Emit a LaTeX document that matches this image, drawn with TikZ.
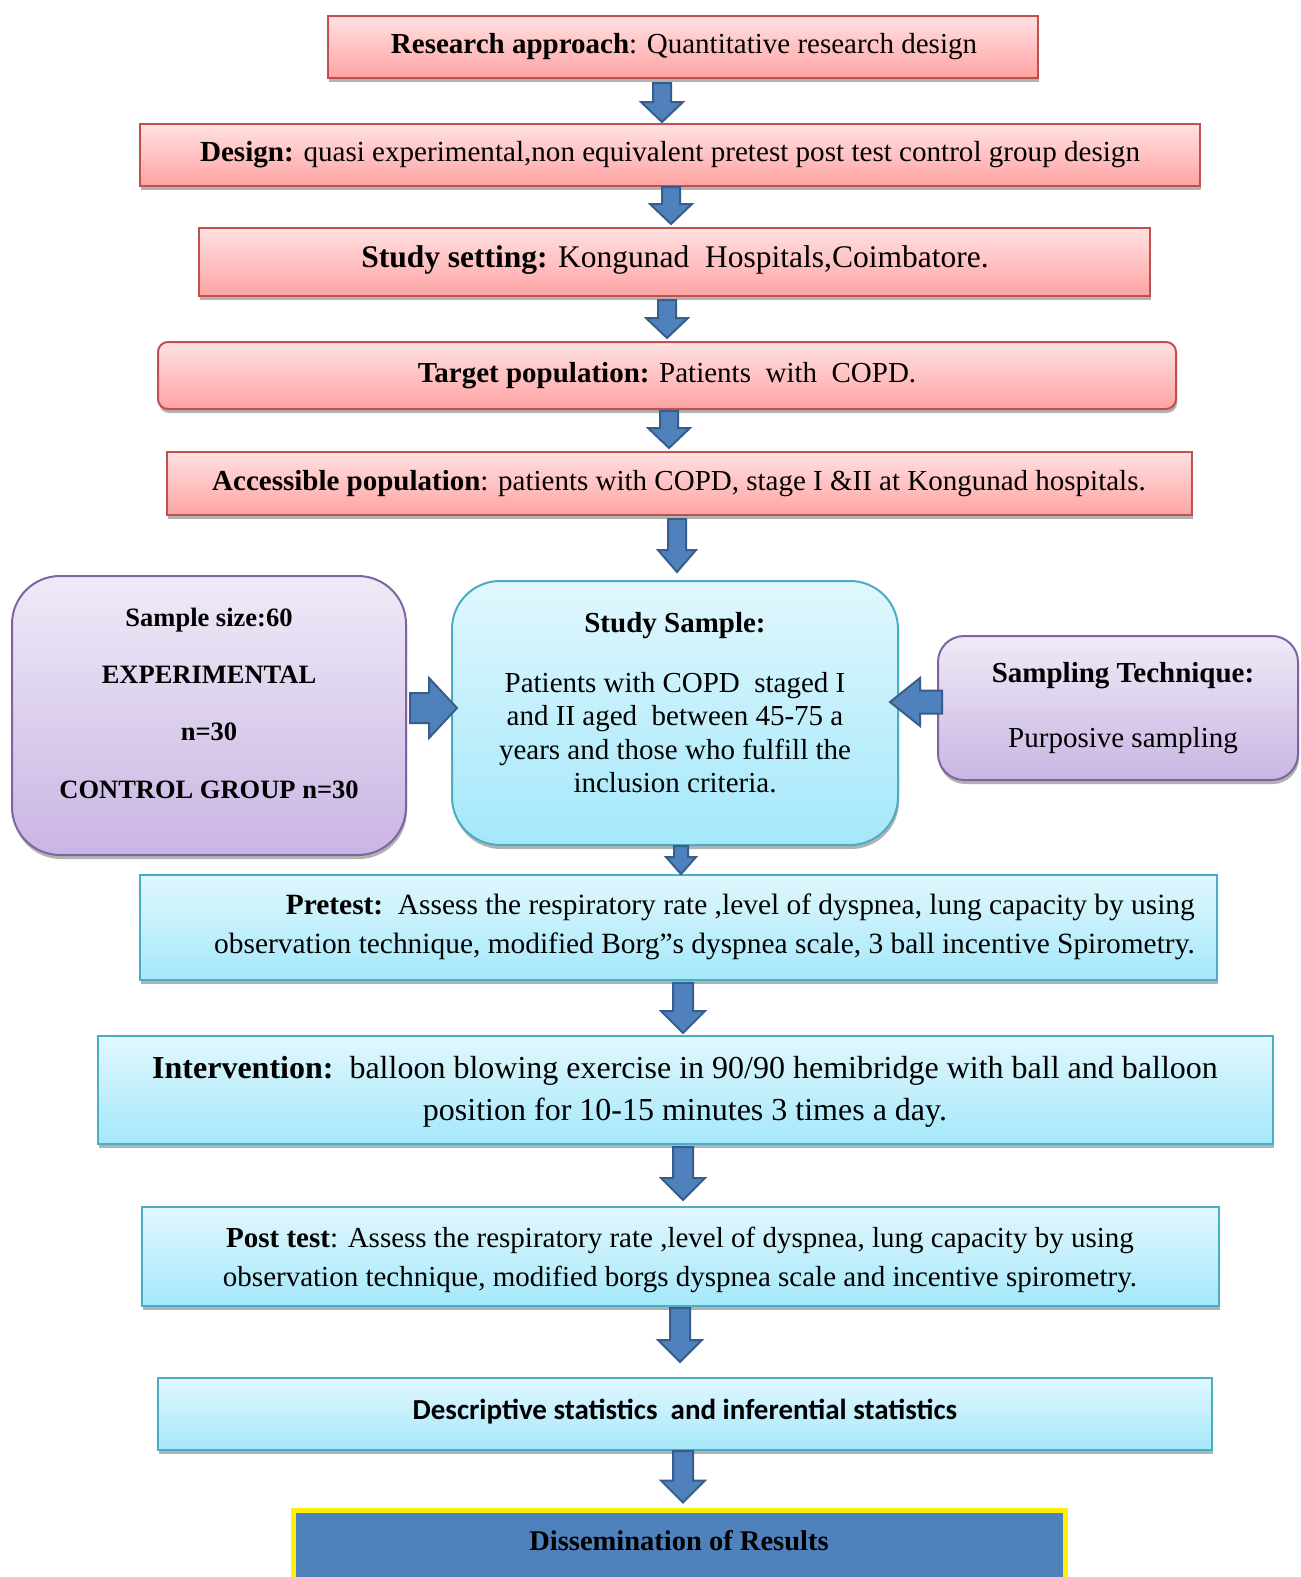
\documentclass[tikz,border=0pt]{standalone}
\usepackage{fontspec}
\setmainfont{Liberation Serif}
\newfontfamily\calibri{Carlito}
\usetikzlibrary{calc,shadows}

\definecolor{redtop}{RGB}{255,225,225}
\definecolor{redbot}{RGB}{255,163,163}
\definecolor{redline}{RGB}{192,80,77}
\definecolor{cytop}{RGB}{225,247,253}
\definecolor{cybot}{RGB}{164,232,250}
\definecolor{cyline}{RGB}{75,172,198}
\definecolor{putop}{RGB}{239,234,247}
\definecolor{pubot}{RGB}{201,181,227}
\definecolor{puline}{RGB}{128,100,162}
\definecolor{arfill}{RGB}{79,129,189}
\definecolor{arline}{RGB}{56,93,138}

\newcommand{\fs}[2]{\fontsize{#1pt}{#2pt}\selectfont}

% vertical block arrow: from, to, x, top gap, bottom gap, shaft half, head half, head length
\newcommand{\varrow}[8]{%
  \path[barrow] let \p1=(#1.south), \p2=(#2.north) in
   ({#3pt-#6pt},{\y1-#4pt}) -- ({#3pt+#6pt},{\y1-#4pt}) -- ({#3pt+#6pt},{\y2+#5pt+#8pt})
   -- ({#3pt+#7pt},{\y2+#5pt+#8pt}) -- ({#3pt},{\y2+#5pt}) -- ({#3pt-#7pt},{\y2+#5pt+#8pt})
   -- ({#3pt-#6pt},{\y2+#5pt+#8pt}) -- cycle;}
% horizontal block arrow: start anchor, tip anchor, y, start offset, tip offset, shaft half, head half, signed head length
\newcommand{\harrow}[8]{%
  \path[barrow] let \p1=(#1), \p2=(#2) in
   ({\x1+(#4pt)},{-#3pt+#6pt}) -- ({\x2+(#5pt)-(#8pt)},{-#3pt+#6pt}) -- ({\x2+(#5pt)-(#8pt)},{-#3pt+#7pt})
   -- ({\x2+(#5pt)},{-#3pt}) -- ({\x2+(#5pt)-(#8pt)},{-#3pt-#7pt}) -- ({\x2+(#5pt)-(#8pt)},{-#3pt-#6pt})
   -- ({\x1+(#4pt)},{-#3pt-#6pt}) -- cycle;}

\begin{document}
\begin{tikzpicture}[x=1pt,y=-1pt,
  shad/.style={drop shadow={shadow xshift=1pt,shadow yshift=-4pt,opacity=0.3,fill=black}},
  redbox/.style={shad,draw=redline,line width=2pt,top color=redtop,bottom color=redbot,inner sep=0pt},
  cybox/.style={shad,draw=cyline,line width=2pt,top color=cytop,bottom color=cybot,inner sep=0pt},
  pubox/.style={shad,draw=puline,line width=2pt,top color=putop,bottom color=pubot,inner sep=0pt},
  txt/.style={inner sep=0pt,align=center,font=\fs{29}{39}},
  barrow/.style={fill=arfill,draw=arline,line width=2pt,line join=miter}
]
\useasboundingbox (0,0) rectangle (1301,1577);
\clip (0,0) rectangle (1301,1577);
\fill[white] (0,0) rectangle (1301,1577);

% boxes
\node[redbox,minimum width=710pt,minimum height=62pt] (b1) at (683,47) {};
\node[redbox,minimum width=1060pt,minimum height=62pt] (b2) at (670,155) {};
\node[redbox,minimum width=951pt,minimum height=68pt] (b3) at (674.5,262) {};
\node[redbox,rounded corners=10pt,minimum width=1018pt,minimum height=67pt] (b4) at (667,375.5) {};
\node[redbox,minimum width=1025pt,minimum height=63pt] (b5) at (679.5,483.5) {};
\node[pubox,rounded corners=48pt,minimum width=394pt,minimum height=279pt] (pl) at (209,715.5) {};
\node[cybox,rounded corners=48pt,minimum width=446pt,minimum height=264pt] (ss) at (675,713) {};
\node[pubox,rounded corners=26pt,minimum width=360pt,minimum height=144pt] (pr) at (1118,708) {};
\node[cybox,minimum width=1077pt,minimum height=105pt] (pre) at (678.5,927.5) {};
\node[cybox,minimum width=1175pt,minimum height=108pt] (int) at (685.5,1090) {};
\node[cybox,minimum width=1077pt,minimum height=99pt] (post) at (680.5,1256.5) {};
\node[cybox,minimum width=1054pt,minimum height=72pt] (desc) at (685,1414) {};
\node[draw=yellow,line width=5pt,fill=arfill,minimum width=772pt,minimum height=110pt,inner sep=0pt] (dis) at (679,1565) {};

% texts
\node[txt] (t1) at (684,47) {\textbf{Research approach}: Quantitative research design};
\node[txt,font=\fs{29.1}{39}] (t2) at (670,155) {\textbf{Design:} quasi experimental,non equivalent pretest post test control group design};
\node[txt,font=\fs{31.5}{38}] (t3) at (675,260) {\textbf{Study setting:} Kongunad\ \ Hospitals,Coimbatore.};
\node[txt] (t4) at (667,376) {\textbf{Target population:} Patients\ \ with\ \ COPD.};
\node[txt] (t5) at (679,484) {\textbf{Accessible population}: patients with COPD, stage I \&II at Kongunad hospitals.};
\node[txt,font=\fs{26.5}{57.3}\bfseries] (tpl) at (209,703) {Sample size:60\\EXPERIMENTAL\\n=30\\CONTROL GROUP n=30};
\node[txt,font=\fs{29}{33.5}] (tss) at (675,703) {\textbf{Study Sample:}\\[26pt]Patients with COPD\ \ staged I\\and II aged\ \ between 45-75 a\\years and those who fulfill the\\inclusion criteria.};
\node[txt,font=\fs{29}{65}] (tpr) at (1123,708.5) {\textbf{Sampling Technique:}\\Purposive sampling};
\node[txt,font=\fs{29.4}{39},align=right,anchor=east] (tpre) at (1195,926.5) {\textbf{Pretest:}\ \ Assess the respiratory rate ,level of dyspnea, lung capacity by using\\observation technique, modified Borg”s dyspnea scale, 3 ball incentive Spirometry.};
\node[txt,font=\fs{32}{42}] (tint) at (685,1092) {\textbf{Intervention:}\ \ balloon blowing exercise in 90/90 hemibridge with ball and balloon\\position for 10-15 minutes 3 times a day.};
\node[txt] (tpost) at (680,1259.5) {\textbf{Post test}: Assess the respiratory rate ,level of dyspnea, lung capacity by using\\observation technique, modified borgs dyspnea scale and incentive spirometry.};
\node[txt,font=\calibri\bfseries\fs{29}{35}] (tdesc) at (685,1412) {Descriptive statistics\ \ and inferential statistics};
\node[txt,font=\bfseries\fs{28.5}{35}] (tdis) at (679,1541) {Dissemination of Results};

% arrows
\varrow{b1}{b2}{662}{4}{1}{9}{21}{20}
\varrow{b2}{b3}{671}{0}{3}{9}{21}{20}
\varrow{b3}{b4}{667}{3}{3}{9}{21}{20}
\varrow{b4}{b5}{669}{1}{3}{9}{21}{20}
\varrow{b5}{ss}{677}{3}{8}{9}{19}{22}
\harrow{pl.east}{ss.west}{708}{3}{6}{15}{30}{28}
\harrow{pr.west}{ss.east}{702}{5}{-9}{11.5}{24}{-30}
\varrow{ss}{pre}{681}{0}{0}{7}{15}{17}
\varrow{pre}{int}{683}{2}{2}{10}{22}{22}
\varrow{int}{post}{683}{2}{6}{10}{22}{22}
\varrow{post}{desc}{680}{1}{15}{10}{22}{22}
\varrow{desc}{dis}{683}{0}{5}{10}{22}{22}
\end{tikzpicture}
\end{document}
